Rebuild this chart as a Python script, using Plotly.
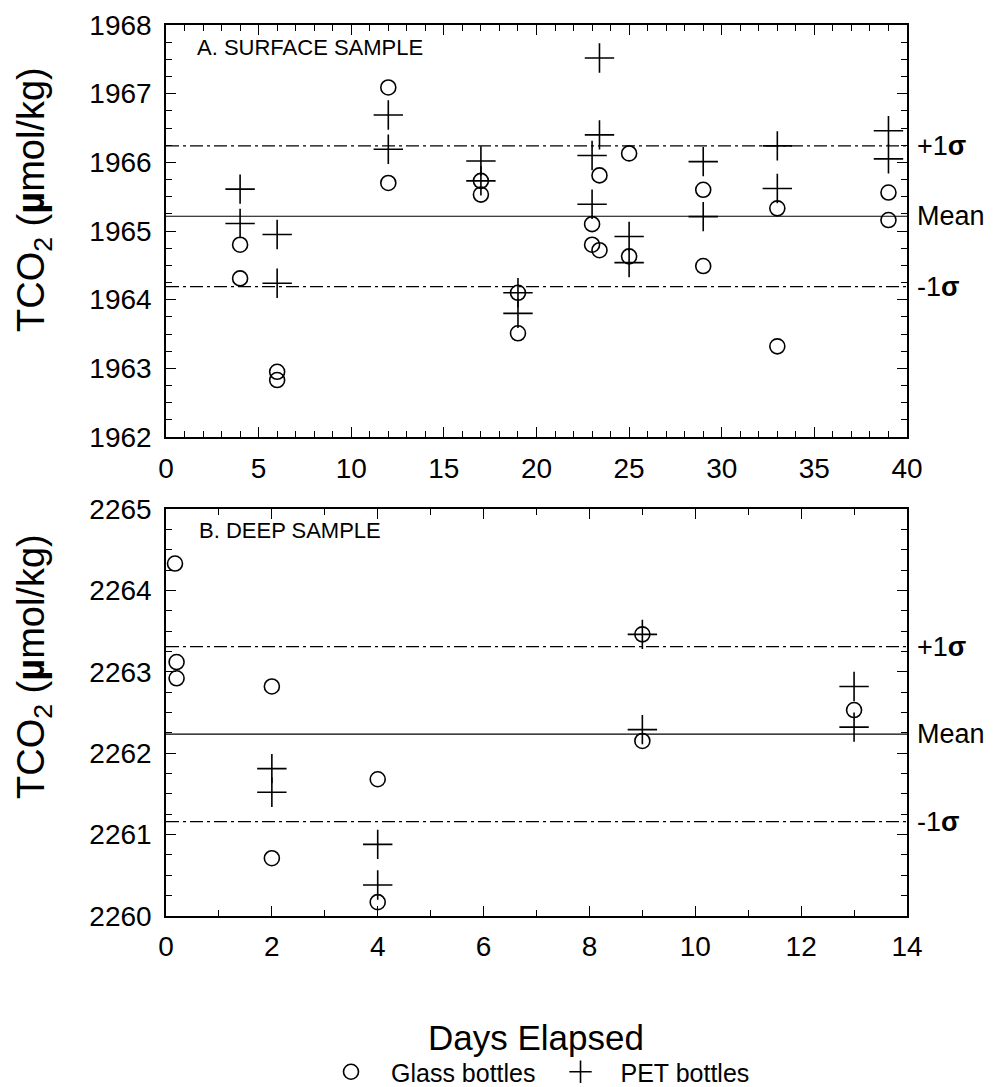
import plotly.graph_objects as go
from plotly.subplots import make_subplots

# ---------------- data ----------------
# Panel A: surface sample
surf_glass_days = [4, 4, 6, 6, 12, 12, 17, 17, 19, 19, 23, 23, 23.4, 23.4, 25, 25, 29, 29, 33, 33, 39, 39]
surf_glass_tco2 = [1964.80, 1964.31, 1962.95, 1962.83, 1967.09, 1965.70, 1965.73, 1965.53, 1964.10, 1963.51,
                   1965.10, 1964.80, 1965.81, 1964.72, 1966.13, 1964.63, 1965.60, 1964.49, 1965.33, 1963.32,
                   1965.56, 1965.16]
surf_pet_days = [4, 4, 6, 6, 12, 12, 17, 17, 19, 19, 23, 23, 23.4, 23.4, 25, 25, 29, 29, 33, 33, 39, 39]
surf_pet_tco2 = [1965.61, 1965.11, 1964.95, 1964.24, 1966.69, 1966.19, 1966.02, 1965.73, 1964.10, 1963.80,
                 1966.10, 1965.39, 1967.52, 1966.40, 1964.92, 1964.54, 1966.01, 1965.21, 1966.24, 1965.62,
                 1966.46, 1966.05]
surf_mean = 1965.215
surf_sigma = 1.025

# Panel B: deep sample
deep_glass_days = [0.17, 0.2, 0.2, 2, 2, 4, 4, 9, 9, 13]
deep_glass_tco2 = [2264.33, 2263.12, 2262.92, 2262.82, 2260.71, 2261.68, 2260.17, 2263.46, 2262.15, 2262.53]
deep_pet_days = [2, 2, 4, 4, 9, 9, 13, 13]
deep_pet_tco2 = [2261.81, 2261.52, 2260.88, 2260.38, 2263.46, 2262.29, 2262.82, 2262.32]
deep_mean = 2262.235
deep_sigma = 1.075

surf_x_range = [0, 40]
surf_y_range = [1962, 1968]
deep_x_range = [0, 14]
deep_y_range = [2260, 2265]

series_names = ["Glass bottles", "PET bottles"]
panel_titles = ["A. SURFACE SAMPLE", "B. DEEP SAMPLE"]
x_title = "Days Elapsed"
y_title = "TCO<sub>2</sub> (<b>µ</b>mol/kg)"
line_labels = ["+1<b>σ</b>", "Mean", "-1<b>σ</b>"]

# ---------------- figure ----------------
W, H = 995, 1087
OFF = 8  # page body margin
FONT = "Liberation Sans, Arial, Helvetica, sans-serif"


def px(xp):
    return (xp - OFF) / W


def py(yp):
    return 1 - (yp - OFF) / H


fig = make_subplots(rows=2, cols=1)

glass_marker = dict(symbol="circle-open", size=15, color="black", line=dict(width=1.6, color="black"))
pet_marker = dict(symbol="cross-thin-open", size=21, color="black", line=dict(width=1.6, color="black"))

fig.add_trace(go.Scatter(x=surf_glass_days, y=surf_glass_tco2, mode="markers", marker=glass_marker,
                         name=series_names[0], legendgroup="g"), row=1, col=1)
fig.add_trace(go.Scatter(x=surf_pet_days, y=surf_pet_tco2, mode="markers", marker=pet_marker,
                         name=series_names[1], legendgroup="p"), row=1, col=1)
fig.add_trace(go.Scatter(x=deep_glass_days, y=deep_glass_tco2, mode="markers", marker=glass_marker,
                         name=series_names[0], legendgroup="g", showlegend=False), row=2, col=1)
fig.add_trace(go.Scatter(x=deep_pet_days, y=deep_pet_tco2, mode="markers", marker=pet_marker,
                         name=series_names[1], legendgroup="p", showlegend=False), row=2, col=1)

# mean / sigma lines
for yref, xref, mean, sig in [("y", "x", surf_mean, surf_sigma), ("y2", "x2", deep_mean, deep_sigma)]:
    levels = [mean + sig, mean, mean - sig]
    for lvl, lab in zip(levels, line_labels):
        fig.add_shape(type="line", xref=xref + " domain", yref=yref, x0=0, x1=1, y0=lvl, y1=lvl,
                      line=dict(color="black", width=1.2,
                                dash="solid" if lab == "Mean" else "13px,4px,3px,4px"))
        fig.add_annotation(xref="paper", yref=yref, x=px(915), y=lvl, text=lab, showarrow=False,
                           xanchor="left", yanchor="middle", font=dict(size=27, color="black", family=FONT))

# domains (reference pixels -> paper)
xdom = [px(166), px(907)]
ydom_top = [py(437), py(25)]
ydom_bot = [py(916), py(509)]

axis_common = dict(showline=True, linecolor="black", linewidth=1.5, mirror="ticks", ticks="inside",
                   ticklen=10, tickwidth=1.3, tickcolor="black", showgrid=False, zeroline=False,
                   automargin=False, tickfont=dict(size=28, color="black", family=FONT))

fig.update_xaxes(**axis_common)
fig.update_yaxes(**axis_common)

minor_x = dict(dtick=1, ticks="inside", ticklen=6, tickcolor="black", tickwidth=1)
minor_y = dict(dtick=0.25, ticks="inside", ticklen=6, tickcolor="black", tickwidth=1)

fig.update_layout(
    xaxis=dict(domain=xdom, range=surf_x_range, dtick=5, tick0=0, ticklabelstandoff=6, minor=minor_x),
    yaxis=dict(domain=ydom_top, range=surf_y_range, dtick=1, tick0=1962, ticklabelstandoff=7, minor=minor_y),
    xaxis2=dict(domain=xdom, range=deep_x_range, dtick=2, tick0=0, ticklabelstandoff=5, minor=minor_x),
    yaxis2=dict(domain=ydom_bot, range=deep_y_range, dtick=1, tick0=2260, ticklabelstandoff=7, minor=minor_y),
)

# panel labels
fig.add_annotation(xref="paper", yref="paper", x=px(195), y=py(47), text=panel_titles[0],
                   showarrow=False, xanchor="left", yanchor="middle",
                   font=dict(size=22, color="black", family=FONT))
fig.add_annotation(xref="paper", yref="paper", x=px(197), y=py(530), text=panel_titles[1],
                   showarrow=False, xanchor="left", yanchor="middle",
                   font=dict(size=22, color="black", family=FONT))

# axis titles
for yc in [200, 667]:
    fig.add_annotation(xref="paper", yref="paper", x=px(34), y=py(yc), text=y_title, textangle=-90,
                       showarrow=False, xanchor="center", yanchor="middle",
                       font=dict(size=38, color="black", family=FONT))
fig.add_annotation(xref="paper", yref="paper", x=px(536), y=py(1037), text=x_title, showarrow=False,
                   xanchor="center", yanchor="middle", font=dict(size=35, color="black", family=FONT))

fig.update_layout(
    template="none",
    width=W, height=H,
    margin=dict(l=0, r=0, t=0, b=0, pad=0),
    paper_bgcolor="white", plot_bgcolor="white",
    font=dict(family=FONT, color="black"),
    showlegend=True,
    legend=dict(orientation="h", x=px(311), y=0, xanchor="left", yanchor="bottom",
                font=dict(size=25, color="black", family=FONT), itemwidth=70, borderwidth=0,
                bgcolor="rgba(0,0,0,0)", tracegroupgap=0),
)

fig.write_html("out.html")
